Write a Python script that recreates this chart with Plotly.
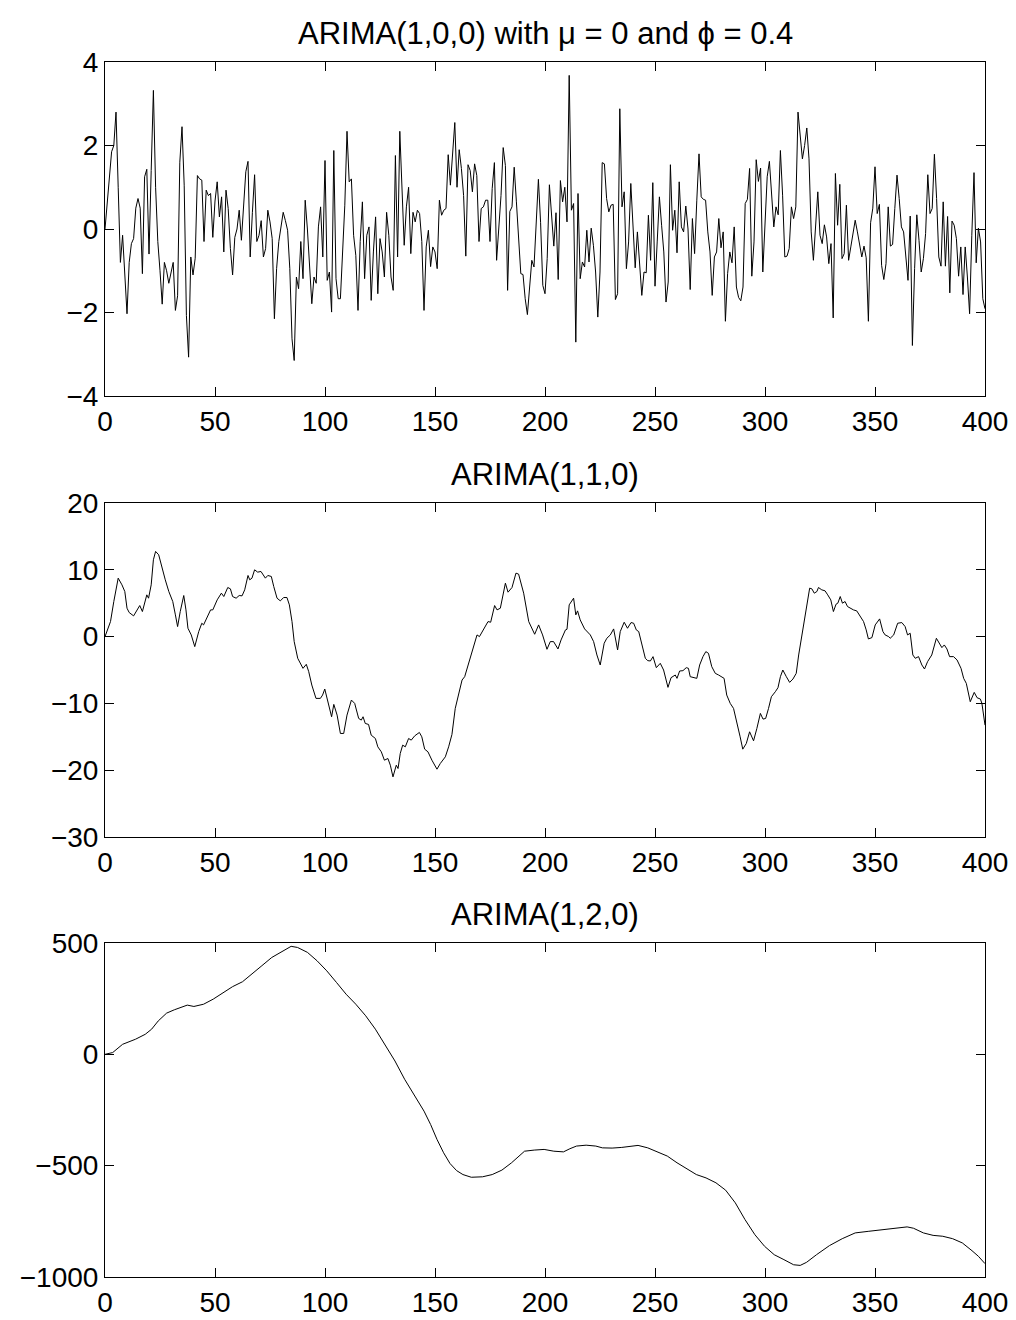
import plotly.graph_objects as go

# ---------------- data ----------------
t_ar = list(range(0, 401))
y_ar = [
    0, 0.6, 1.2, 1.85, 2.0, 2.8, 1.0, -0.8, -0.15, -1.1,
    -2.03, -0.8, -0.35, -0.23, 0.5, 0.73, 0.5, -1.07, 1.25, 1.43,
    -0.6, 1.4, 3.32, 1.0, -0.3, -1.0, -1.8, -0.8, -1.0, -1.3,
    -1.0, -0.8, -1.95, -1.6, 1.6, 2.45, 1.05, -2.07, -3.07, -0.67,
    -1.1, -0.7, 1.28, 1.2, 1.17, -0.3, 0.93, 0.8, 0.85, -0.2,
    0.67, 1.13, 0.29, 0.77, -0.55, 0.93, 0.49, -0.47, -1.1, -0.2,
    0, 0.45, -0.27, 0.65, 1.37, 1.62, -0.67, 0.4, 1.3, -0.3,
    -0.15, 0.2, -0.67, -0.47, 0.45, 0.17, -0.23, -2.15, -0.95, -0.3,
    0.09, 0.4, 0.2, -0.03, -0.95, -2.63, -3.15, -1.15, -1.43, -0.3,
    -1.19, 0.69, 0, -0.95, -1.79, -1.15, -1.3, 0.05, 0.53, -0.67,
    1.64, -1.23, -1.03, -1.99, 1.88, -1.19, -1.67, -1.67, -0.6, 0.57,
    2.34, 1.13, 1.2, -0.15, -0.63, -1.95, -0.3, 0.65, -1.19, -0.15,
    0.05, -1.71, -0.55, 0.29, -1.55, -0.23, -0.55, -1.15, 0.4, -0.15,
    -1.15, -1.47, 1.76, -0.67, 2.34, 1.17, -0.39, 0.53, 1.0, -0.59,
    0.4, 0.17, 0.45, 0.37, -0.3, -1.95, -0.43, -0.03, -0.9, -0.43,
    -0.55, -0.95, 0.69, 0.33, 0.45, 0.49, 1.78, 1.05, 1.84, 2.55,
    1.0, 1.9, 1.45, 0.8, -0.65, 1.54, 1.4, 0.89, 1.56, 1.28,
    -0.3, 0.49, 0.53, 0.69, 0.69, -0.3, 0.97, 1.59, -0.75, -0.07,
    0.8, 1.95, 1.52, -1.47, 0.42, 0.53, 1.48, 0.65, -0.23, -1.07,
    -1.09, -1.67, -2.05, -1.43, -0.75, -0.91, 0.09, 1.19, 0.15, -1.35,
    -1.55, -0.71, 1.06, 0.41, -0.41, 0.39, -1.21, 1.16, 0.65, 1.0,
    0.17, 3.68, 0.45, 0.61, -2.71, 0.85, -1.19, -0.79, -0.91, -0.03,
    -0.79, 0.02, -0.39, -1.03, -2.11, -1.03, 1.59, 1.56, 0.73, 0.41,
    0.57, 0.59, -1.69, -1.55, 2.88, 0.53, 0.89, -0.95, -0.31, 1.09,
    0.09, -0.93, -0.07, -0.85, -1.59, -1.03, -1.05, 0.33, -0.75, 1.11,
    -1.37, -0.31, 0.77, 0.09, -0.55, -1.75, -1.27, 1.54, -0.03, 0.45,
    -0.57, 1.13, 0.05, -0.07, 0.55, 0, -1.45, 0.25, -0.59, 0.69,
    1.8, 0.77, 0.71, 0.69, -0.07, -0.55, -1.59, -0.67, -0.55, 0.25,
    -0.45, -0.07, -2.21, -1.07, -0.55, -0.81, 0.05, -1.39, -1.64, -1.72,
    -1.39, 0.61, 0.71, 1.45, -1.13, -0.31, 1.66, 1.14, 1.46, -1.03,
    0.21, 1.25, 1.62, 0.81, 0.05, 0.53, 0.34, 1.88, 0.81, -0.67,
    -0.65, -0.47, 0.53, 0.25, 0.53, 2.8, 2.2, 1.68, 2.0, 2.42,
    1.68, -0.07, -0.75, 0.17, 0.89, -0.15, -0.35, 0.1, -0.19, -0.83,
    -0.35, -2.13, 1.33, 0.09, 1.07, -0.71, -0.59, 0.57, -0.75, -0.43,
    -0.07, 0.21, -0.07, -0.35, -0.67, -0.41, -0.69, -2.21, 0.15, 0.5,
    1.49, 0.37, 0.59, -0.87, -1.21, -0.83, 0.53, -0.41, -0.37, 0.49,
    1.29, 0.73, 0.05, -0.07, -0.59, -1.23, 0.31, -2.79, -0.95, 0.34,
    -0.27, -1.03, -0.71, -0.11, 1.3, 0.37, 0.49, 1.79, 0.73, -0.67,
    -0.89, 0.65, -0.89, 0.3, -1.53, 0.19, 0.09, -0.23, -1.13, -0.43,
    -1.57, -0.43, -1.15, -2.03, -0.15, 1.35, -0.81, 0.02, -0.31, -1.67,
    -1.91,
]

t_i1 = [
    0, 2.5, 4, 6, 7.7, 9, 10, 11, 13, 14.5, 15.8, 17, 18.3, 19, 19.8, 21, 22, 23,
    24.4, 26, 27.4, 29, 30.8, 32, 33, 34.2, 35.8, 36.8, 37.7, 39.2, 40.8, 42.6, 44,
    44.8, 46.4, 48, 49, 51, 52.9, 54, 55.8, 57, 58, 59.6, 61, 62.3, 63.5, 65, 65.8,
    66.8, 68, 69.4, 70.9, 72.9, 74, 75.6, 76.7, 78.2, 79.7, 81.2, 82.7, 83.8, 85,
    86, 87.6, 89, 90, 91.5, 92.6, 94, 95.9, 97.9, 98.9, 99.9, 101.4, 103, 104,
    105.5, 107, 108.5, 110, 112, 113.5, 115.3, 116.5, 117.3, 118.3, 119.8, 121,
    122.9, 124, 125.6, 127, 128.6, 129.7, 130.9, 132.4, 133.2, 134.2, 135.3, 136.5,
    138, 139.2, 140.8, 142.9, 144, 145.3, 146.8, 148.6, 150.9, 152.4, 154.7, 156.2,
    157.7, 159.2, 160.8, 162.3, 163.5, 165.3, 167.1, 169.1, 170.2, 172.1, 174.1,
    175.3, 177.1, 178.2, 179.7, 182, 183.2, 185, 186.8, 188, 190.3, 192.6, 195.3,
    197.1, 198.9, 200.9, 202.4, 203.9, 205.9, 207.3, 209.3, 210, 211, 213, 214,
    214.8, 216, 218, 219, 220.6, 222.1, 223.6, 225.1, 226.9, 228.1, 229.7, 231.2,
    233, 234.2, 236, 237.5, 239.1, 240.3, 241.5, 242.6, 244.1, 245.6, 246.7, 247.9,
    249.1, 250.6, 252.4, 253.9, 255.9, 257.3, 259.2, 260, 261.2, 262.7, 264.2,
    265.2, 266, 267.8, 269, 270.3, 271.8, 273.1, 274.3, 275.8, 277.4, 278.9, 280.4,
    281.4, 282.6, 284.2, 285.7, 287.2, 288.7, 289.9, 291.5, 293, 294.8, 296.3,
    297.9, 299.1, 300.3, 301.6, 302.9, 304.7, 305.9, 307, 308.1, 309.7, 311.2,
    312.7, 314.2, 315.3, 316.8, 318.3, 319.5, 320.3, 321.3, 322.4, 323.6, 324.3,
    325.8, 327.3, 328.5, 329.9, 331.1, 332.3, 333.1, 334.2, 335.2, 336.4, 337.5,
    338.7, 340.2, 341.7, 343.3, 344.8, 346, 347, 348.6, 350.1, 352.1, 353.6, 354.6,
    356.2, 356.9, 358.5, 360.3, 362.2, 363.7, 364.8, 366, 367.2, 368.3, 369.8,
    371.3, 372.5, 373.9, 375.8, 377.9, 379.4, 380.4, 381.5, 382.7, 383.9, 385.7,
    387.3, 389.1, 390.3, 391.5, 393.3, 395.1, 396.4, 397.9, 398.6, 400,
]
y_i1 = [
    0, 2.25, 5.25, 8.75, 7.75, 6.75, 4.25, 3.6, 3.1, 4, 4.65, 3.75, 5.5, 6.25, 5.75,
    7.75, 11.5, 12.75, 12.25, 10, 8.5, 6.75, 5.25, 3.25, 1.5, 3.75, 6.15, 4, 1.25,
    0.25, -1.5, 0.75, 2, 1.75, 3, 4, 4, 5.5, 6.5, 6, 7.35, 7.15, 6, 5.75, 6.15, 6.1,
    7, 9.15, 8.5, 8.75, 10, 9.65, 9.75, 8.75, 9.15, 9, 7.5, 5.75, 5.35, 5.85, 5.85,
    4.75, 2.25, -0.75, -3.25, -4, -4.75, -4.15, -5.25, -7.25, -9.25, -9.25, -8.75,
    -7.85, -9.75, -12, -10.15, -11.75, -14.5, -14.5, -11.75, -9.5, -10, -12.25,
    -12.5, -12, -13, -13.15, -14.75, -15.25, -16.5, -17.25, -18.5, -18.25, -19.25,
    -21, -19.25, -19.75, -17.5, -16.25, -16.5, -15.25, -15.5, -14.85, -14.35, -15,
    -16.85, -17.25, -18.5, -19.85, -19, -18, -16.5, -14.65, -10.75, -8.75, -6.5, -6,
    -4, -2.25, 0.25, 0, 1, 2.25, 2.15, 4.65, 4, 4.25, 8, 6.65, 7.35, 9.5, 9.35, 6.5,
    2.25, 0.35, 1.75, 0.25, -1.9, -0.75, -0.75, -1.85, -0.5, 1, 1.1, 4.75, 5.75,
    3.25, 3.85, 2.5, 1.15, 0.85, 0.25, -0.75, -2.75, -4.25, -1, -0.25, 0.25, 1.15,
    -2, 0.75, 2.15, 1.25, 2.1, 2, 1, 0.75, -1.5, -3.25, -3.6, -3.65, -3, -4.65, -4,
    -5, -7.6, -6.15, -5.75, -6.25, -5.15, -5.1, -4.65, -4.75, -6, -6.15, -6.25,
    -4.25, -3, -2.25, -2.5, -4.5, -5.5, -5.75, -6, -6.25, -8.75, -10, -10.75, -12.75,
    -15, -16.85, -16, -14.25, -15.6, -13.75, -11.5, -12.35, -12.25, -10.75, -9,
    -8.25, -7.65, -6, -5, -6, -6.85, -6.35, -5.5, -2.75, 0.25, 3.25, 6.25, 7.25,
    7.15, 6.5, 6.75, 7.35, 7, 6.85, 6.25, 5.5, 3.75, 4.85, 5, 6, 5, 5.25, 4.5, 4.25,
    4, 3.85, 3, 2.25, 1, -0.35, -0.15, 1.75, 2.65, 0.75, 0.25, 0, -0.25, 0.25, 2,
    2.1, 1.5, 0.25, 0.5, -2.75, -3.25, -3, -4.25, -4.85, -3.75, -2.75, -0.25, -1,
    -1.65, -1.25, -1.85, -3, -3, -3.5, -4.75, -6.25, -7, -9.75, -8.35, -9.15, -9.35,
    -10, -13.25,
]

t_i2 = [
    0, 3.5, 8, 13.9, 18.3, 21.2, 24.2, 28, 31.5, 34.5, 37.4, 40.4, 44.8, 49.2, 53.6,
    58, 62.5, 66.9, 71.3, 75.8, 80.2, 84.6, 87.5, 92, 96.4, 100.8, 105.2, 109.6,
    114, 118.5, 122.9, 127.3, 131.8, 136.2, 140.6, 145, 148, 150.9, 153.9, 156.8,
    159.8, 162.7, 166.5, 171.6, 176, 180.4, 184.8, 187.8, 190.7, 195.1, 199.6, 204,
    208.4, 211.3, 214.3, 218.7, 223.1, 226.1, 230.5, 234.9, 239.3, 242.3, 246.7,
    251.1, 255.6, 260, 264.4, 268.8, 273.2, 277.7, 282.1, 286.5, 290.9, 295.4,
    299.8, 304.2, 308.6, 313, 316, 318.9, 323.4, 329.3, 335.1, 341, 346.9, 351.4,
    357.2, 361.7, 364.6, 367.5, 372, 376.4, 380.8, 385.3, 389.7, 394.1, 397, 400,
]
y_i2 = [
    0, 8, 45, 68, 90, 113, 150, 185, 200, 210, 221, 215, 225, 248, 278, 304, 326,
    360, 398, 435, 461, 485, 480, 458, 420, 375, 323, 270, 225, 173, 113, 45, -30,
    -112, -184, -255, -315, -382, -442, -490, -522, -540, -552, -550, -540, -520,
    -487, -460, -435, -430, -427, -435, -438, -424, -412, -408, -412, -420, -421,
    -418, -412, -409, -420, -438, -457, -487, -514, -540, -555, -577, -610, -667,
    -742, -810, -862, -900, -922, -945, -948, -934, -900, -859, -828, -802, -795,
    -790, -784, -781, -775, -781, -802, -813, -817, -828, -847, -882, -907, -940,
]

titles = ["ARIMA(1,0,0) with μ = 0 and ϕ = 0.4", "ARIMA(1,1,0)", "ARIMA(1,2,0)"]
x_ticks = [0, 50, 100, 150, 200, 250, 300, 350, 400]
y_ticks = [[-4, -2, 0, 2, 4], [-30, -20, -10, 0, 10, 20], [-1000, -500, 0, 500]]
y_ranges = [[-4, 4], [-30, 20], [-1000, 500]]

# ---------------- figure ----------------
W, H = 1016, 1320
FONT = "Liberation Sans, Arial, Helvetica, sans-serif"
x_dom = [105 / W, 985 / W]
boxes = [(62, 396), (503, 837), (943, 1277)]  # pixel top/bottom of each axes box

fig = go.Figure()
series = [(t_ar, y_ar), (t_i1, y_i1), (t_i2, y_i2)]
for k, (xs, ys) in enumerate(series):
    n = "" if k == 0 else str(k + 1)
    fig.add_trace(go.Scatter(x=xs, y=ys, mode="lines",
                             line=dict(color="black", width=1),
                             xaxis="x" + n, yaxis="y" + n, showlegend=False,
                             hoverinfo="skip"))
    top, bot = boxes[k]
    ax_common = dict(showline=True, linecolor="black", linewidth=1,
                     mirror="allticks", ticks="inside", ticklen=9,
                     tickwidth=1, tickcolor="black", showgrid=False,
                     zeroline=False, automargin=False,
                     tickfont=dict(family=FONT, size=28, color="black"))
    fig.update_layout(**{
        "xaxis" + n: dict(domain=x_dom, range=[0, 400], tickvals=x_ticks,
                          anchor="y" + n, **ax_common),
        "yaxis" + n: dict(domain=[1 - bot / H, 1 - top / H],
                          range=y_ranges[k], tickvals=y_ticks[k],
                          anchor="x" + n, **ax_common),
    })
    fig.add_annotation(text=titles[k], xref="paper", yref="paper",
                       x=0.5 * (x_dom[0] + x_dom[1]), y=1 - (top - 29) / H,
                       xanchor="center", yanchor="middle", showarrow=False,
                       font=dict(family=FONT, size=31, color="black"))

fig.update_layout(width=W, height=H, autosize=False,
                  margin=dict(l=0, r=0, t=0, b=0, pad=0, autoexpand=False),
                  paper_bgcolor="white", plot_bgcolor="white")
fig.write_html("out.html")
